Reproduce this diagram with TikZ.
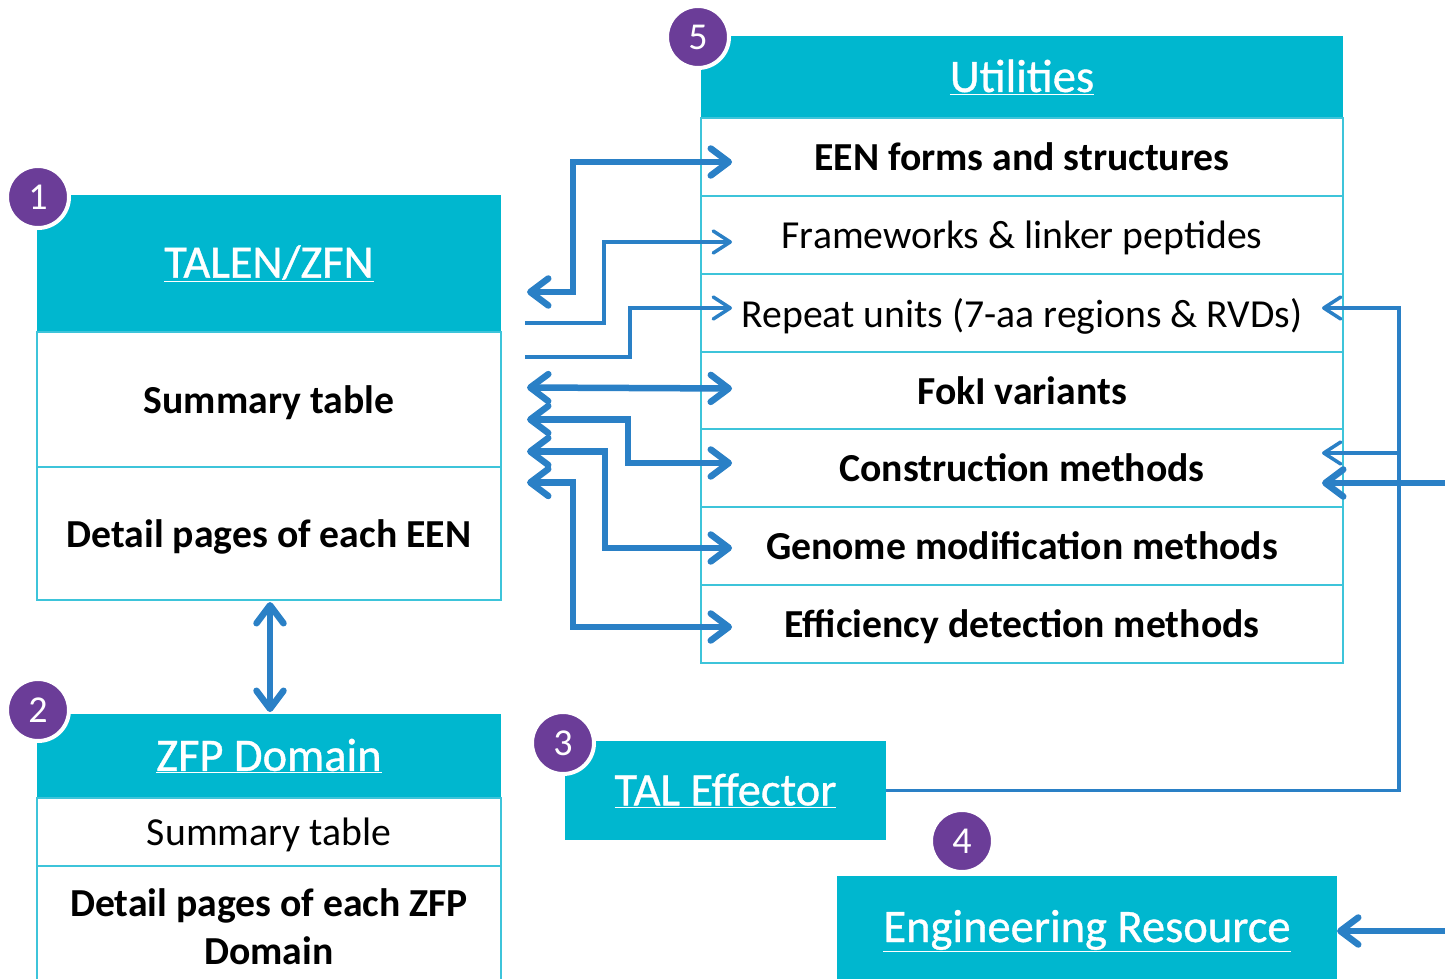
\documentclass[tikz,border=0pt]{standalone}
\usepackage{fontspec}
\setmainfont{Carlito}
\newfontface\hdrface{Carlito}[FakeBold=0.8]
\usetikzlibrary{arrows.meta,calc}
\definecolor{hdr}{HTML}{00B7CF}
\definecolor{rulec}{HTML}{3DC4DA}
\definecolor{link}{HTML}{2A80C6}
\definecolor{badgec}{HTML}{6B3D98}
\tikzset{
  HeadL/.tip={Straight Barb[length=18pt,width=27pt,round]},
  HeadS/.tip={Straight Barb[length=17pt,width=22pt,round]},
  head/.style={fill=hdr, draw=none, inner sep=0pt, outer sep=0pt, text=white,
    font=\hdrface\fontsize{46.5}{50}\selectfont},
  cell/.style={draw=rulec, line width=2pt, fill=white, inner sep=0pt, outer sep=0pt,
    font=\fontsize{39.7}{48}\selectfont, align=center, text depth=0pt},
  badge/.style={circle, fill=badgec, draw=white, line width=4pt, minimum size=62pt,
    inner sep=0pt, text=white, font=\fontsize{38}{40}\selectfont},
  thk/.style={draw=link, line width=6.5pt},
  thn/.style={draw=link, line width=3.5pt},
}
\begin{document}
\begin{tikzpicture}[x=1pt,y=-1pt]
\useasboundingbox (0,0) rectangle (1445,979);
\clip (0,0) rectangle (1445,979);

% Utilities table
\node[head, anchor=north west, minimum width=642pt, minimum height=82pt] (uh) at (701,36) {\underline{Utilities}};
\node[cell, anchor=north west, minimum width=642pt, minimum height=78pt] (u1) at (701,118) {\bfseries EEN forms and structures};
\node[cell, anchor=north west, minimum width=642pt, minimum height=78pt] (u2) at (701,196) {Frameworks \& linker peptides};
\node[cell, anchor=north west, minimum width=642pt, minimum height=78pt] (u3) at (701,274) {Repeat units (7-aa regions \& RVDs)};
\node[cell, anchor=north west, minimum width=642pt, minimum height=78pt] (u4) at (701,352) {\bfseries FokI variants};
\node[cell, anchor=north west, minimum width=642pt, minimum height=78pt] (u5) at (701,429) {\bfseries Construction methods};
\node[cell, anchor=north west, minimum width=642pt, minimum height=78pt] (u6) at (701,507) {\bfseries Genome modification methods};
\node[cell, anchor=north west, minimum width=642pt, minimum height=78pt] (u7) at (701,585) {\bfseries Efficiency detection methods};

% TALEN/ZFN table
\node[head, anchor=north west, minimum width=464pt, minimum height=137pt] (th) at (37,195) {\underline{TALEN/ZFN}};
\node[cell, anchor=north west, minimum width=464pt, minimum height=135pt] (ts) at (37,332) {\bfseries Summary table};
\node[cell, anchor=north west, minimum width=464pt, minimum height=133pt] (td) at (37,467) {\bfseries Detail pages of each EEN};

% ZFP Domain table
\node[head, anchor=north west, minimum width=464pt, minimum height=84pt] (zh) at (37,714) {\underline{ZFP Domain}};
\node[cell, anchor=north west, minimum width=464pt, minimum height=68pt] (zs) at (37,798) {Summary table};
\node[cell, text depth=, anchor=north west, minimum width=464pt, minimum height=122pt] (zd) at (37,866) {\bfseries Detail pages of each ZFP\\\bfseries Domain};

% TAL Effector and Engineering Resource
\node[head, anchor=north west, minimum width=321pt, minimum height=99pt] (tal) at (565,741) {\underline{TAL Effector}};
\node[head, anchor=north west, minimum width=500pt, minimum height=110pt] (er) at (837,876) {\underline{Engineering Resource}};

% links between TALEN/ZFN and the utilities
\draw[thk, HeadL-HeadL] ($(th.north east)+(26,97)$) -- ++(46,0) |- ($(u1.west)+(31,5)$);
\draw[thn, -HeadS] ($(th.south east)+(24,-9)$) -- ++(79,0) |- ($(u2.west)+(31,7)$);
\draw[thn, -HeadS] ($(ts.north east)+(24,25)$) -- ++(105,0) |- ($(u3.west)+(31,-5)$);
\draw[thk, HeadL-HeadL] ($(ts.east)+(26,-12)$) -- ($(u4.west)+(31,-2.5)$);
\draw[thk, HeadL-HeadL] ($(ts.east)+(26,20)$) -- ++(101,0) |- ($(u5.west)+(31,-5)$);
\draw[thk, HeadL-HeadL] ($(ts.east)+(26,52)$) -- ++(78,0) |- ($(u6.west)+(31,2)$);
\draw[thk, HeadL-HeadL] ($(ts.east)+(26,83)$) -- ++(46,0) |- ($(u7.west)+(31,3)$);

% TALEN/ZFN to ZFP Domain
\draw[thk, HeadL-HeadL] ($(td.south)+(1,2)$) -- ($(zh.north)+(1,-2)$);

% TAL Effector and outside links into the utilities
\coordinate (jn) at (1399,453);
\coordinate (ext1) at (1445,483);
\coordinate (ext2) at (1445,931);
\draw[thn, -HeadS] (tal.east) -- ++(513,0) |- ($(u3.east)+(-21,-5)$);
\draw[thn, -HeadS] (jn) -- ($(u5.east)+(-21,-15)$);
\draw[thk, -HeadL] (ext1) -- ($(u5.east)+(-21,15)$);
\draw[thk, -HeadL] (ext2) -- (er.east);

% numbered badges
\node[badge] (b1) at (38,197) {1};
\node[badge] (b2) at (38,710) {2};
\node[badge] (b3) at (563,743) {3};
\node[badge] (b4) at (962,841) {4};
\node[badge] (b5) at (698,37) {5};
\end{tikzpicture}
\end{document}
